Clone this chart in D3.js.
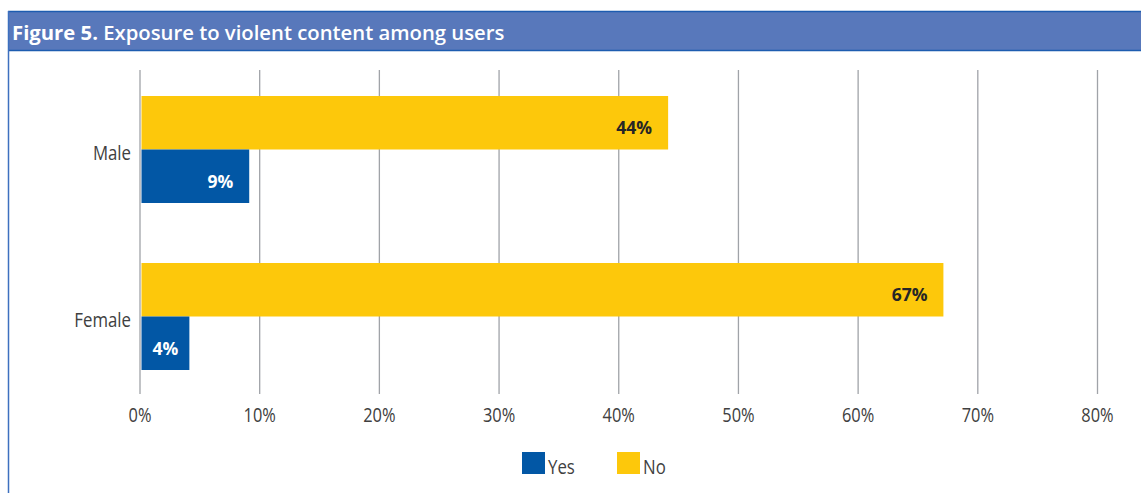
<!DOCTYPE html>
<html>
<head>
<meta charset="utf-8">
<script src="https://cdn.jsdelivr.net/npm/d3@7"></script>
<style>
  html, body { margin: 0; padding: 0; background: #fff; }
  svg { display: block; }
  text { font-family: "Open Sans", "Noto Sans", sans-serif; }
</style>
</head>
<body>
<svg id="chart" width="1141" height="493"></svg>
<script>
// Chart data
const categories = ["Male", "Female"];
const seriesNames = ["Yes", "No"];
const yesValues = [9, 4];
const noValues = [44, 67];
const tickValues = [0, 10, 20, 30, 40, 50, 60, 70, 80];
const titleBold = "Figure 5.";
const titleRest = " Exposure to violent content among users";

const colors = { Yes: "#0257a5", No: "#fdc80b" };
const textGray = "#404040";

const svg = d3.select("#chart");
const W = 1141, H = 493;

svg.append("rect").attr("width", W).attr("height", H).attr("fill", "#fff");

// Header band
const header = svg.append("g");
header.append("rect").attr("x", 8).attr("y", 11).attr("width", W - 8).attr("height", 40)
  .attr("fill", "#5878bb");
header.append("line").attr("x1", 8).attr("x2", W).attr("y1", 11.5).attr("y2", 11.5)
  .attr("stroke", "#1d5cb0").attr("stroke-width", 1.5);
header.append("line").attr("x1", 8).attr("x2", W).attr("y1", 50.5).attr("y2", 50.5)
  .attr("stroke", "#1d5cb0").attr("stroke-width", 1.5);
const title = header.append("text").attr("x", 12).attr("y", 39.5)
  .attr("fill", "#fff").attr("font-size", 20.3);
title.append("tspan").attr("font-weight", 700).text(titleBold);
title.append("tspan").attr("font-weight", 600).text(titleRest);

// Frame left edge
svg.append("line").attr("x1", 8.5).attr("x2", 8.5).attr("y1", 11).attr("y2", H)
  .attr("stroke", "#3d70bf").attr("stroke-width", 1.5);

// Scales
const gridTop = 70, gridBottom = 394;
const x = d3.scaleLinear().domain([0, 80]).range([139.5, 1097]);
const y = d3.scaleBand().domain(categories).range([66, 400]);
const barH = 53.5;
const barOffset = 2;

// Gridlines and tick labels
const axis = d3.axisBottom(x).tickValues(tickValues)
  .tickSize(gridBottom - gridTop).tickFormat(d => d + "%");
const axisG = svg.append("g").attr("transform", `translate(0,${gridTop})`).call(axis);
axisG.select(".domain").remove();
axisG.selectAll(".tick line").attr("stroke", "#a0a3a8").attr("stroke-width", 1.3);
axisG.selectAll(".tick text")
  .attr("y", null).attr("dy", null)
  .attr("fill", textGray).attr("font-size", 20.5).attr("font-weight", 400)
  .attr("font-family", "'Open Sans', sans-serif")
  .attr("text-anchor", "middle")
  .attr("transform", `translate(0,${421.5 - gridTop}) scale(0.8,1)`);

// Category labels
svg.append("g").selectAll("text").data(categories).join("text")
  .attr("transform", d => `translate(131,${y(d) + y.bandwidth() / 2 + 10}) scale(0.82,1)`)
  .attr("text-anchor", "end").attr("fill", textGray)
  .attr("font-size", 20.5).attr("font-weight", 400)
  .text(d => d);

// Bars
const rows = categories.map((c, i) => ({ cat: c, No: noValues[i], Yes: yesValues[i] }));
const bars = [];
rows.forEach(r => {
  const mid = y(r.cat) + y.bandwidth() / 2;
  bars.push({ key: "No", value: r.No, y0: mid - barH });
  bars.push({ key: "Yes", value: r.Yes, y0: mid });
});

const barG = svg.append("g");
barG.selectAll("rect").data(bars).join("rect")
  .attr("x", x(0) + barOffset)
  .attr("y", d => d.y0)
  .attr("width", d => x(d.value) - x(0))
  .attr("height", barH)
  .attr("fill", d => colors[d.key]);

// Value labels inside bar ends
const labelG = svg.append("g");
labelG.selectAll("text").data(bars).join("text")
  .attr("y", d => d.y0 + barH / 2 + 11.5)
  .attr("text-anchor", "end")
  .attr("font-size", 17.5).attr("font-weight", 700)
  .attr("fill", d => d.key === "Yes" ? "#fff" : "#262626")
  .text(d => d.value + "%")
  .each(function (d) {
    const w = this.getComputedTextLength();
    const start = x(0) + barOffset;
    const end = x(d.value) + barOffset;
    const xe = Math.max(end - 16, (start + end) / 2 + w / 2);
    d3.select(this).attr("x", xe);
  });

// Legend
const legend = svg.append("g");
const legendItems = [{ key: "Yes", x: 522 }, { key: "No", x: 617 }];
legend.selectAll("rect").data(legendItems).join("rect")
  .attr("x", d => d.x).attr("y", 452).attr("width", 23).attr("height", 22)
  .attr("fill", d => colors[d.key]);
legend.selectAll("text").data(legendItems).join("text")
  .attr("transform", d => `translate(${d.x + 26},474) scale(0.82,1)`)
  .attr("fill", textGray).attr("font-size", 20.5).attr("font-weight", 400)
  .text(d => d.key);
</script>
</body>
</html>
